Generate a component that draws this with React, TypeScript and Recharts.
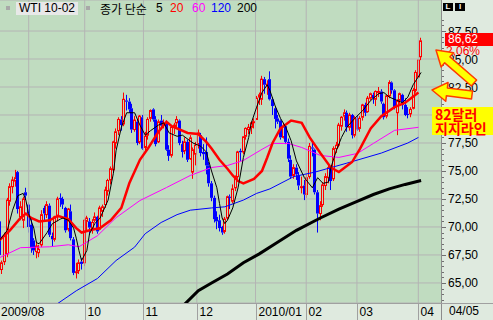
import React from "react";
import { ComposedChart, Bar, Line, XAxis, YAxis, CartesianGrid, ReferenceLine } from "recharts";

// trading days per month, Aug 14 2009 .. Apr 5 2010
const monthNames = ["2009/08", "2009/09", "2009/10", "2009/11", "2009/12", "2010/01", "2010/02", "2010/03", "2010/04"];
const monthDays = [
  [14, 17, 18, 19, 20, 21, 24, 25, 26, 27, 28, 31],
  [1, 2, 3, 4, 8, 9, 10, 11, 14, 15, 16, 17, 18, 21, 22, 23, 24, 25, 28, 29, 30],
  [1, 2, 5, 6, 7, 8, 9, 12, 13, 14, 15, 16, 19, 20, 21, 22, 23, 26, 27, 28, 29, 30],
  [2, 3, 4, 5, 6, 9, 10, 11, 12, 13, 16, 17, 18, 19, 20, 23, 24, 25, 27, 30],
  [1, 2, 3, 4, 7, 8, 9, 10, 11, 14, 15, 16, 17, 18, 21, 22, 23, 24, 28, 29, 30, 31],
  [4, 5, 6, 7, 8, 11, 12, 13, 14, 15, 19, 20, 21, 22, 25, 26, 27, 28, 29],
  [1, 2, 3, 4, 5, 8, 9, 10, 11, 12, 16, 17, 18, 19, 22, 23, 24, 25, 26],
  [1, 2, 3, 4, 5, 8, 9, 10, 11, 12, 15, 16, 17, 18, 19, 22, 23, 24, 25, 26, 29, 30, 31],
  [1, 5],
];
const axisLabels = ["2009/08", "10", "11", "12", "2010/01", "02", "03", "04"];
const lastDateLabel = "04/05";

const opens = [
  70.5, 66.2, 66.9, 67.6, 72.3, 73.6, 74.1, 74.9, 70.9, 70.6, 73.1, 72.0,
  70.2, 68.8, 67.8, 67.7, 68.4, 71.7, 71.1, 71.9, 69.2, 68.9, 70.9, 72.6, 72.5, 71.7, 69.8, 71.4, 68.9, 66.0, 66.1, 66.9, 66.8,
  70.5, 70.5, 69.8, 70.6, 70.9, 69.8, 71.4, 72.0, 73.2, 74.2, 75.1, 77.5, 78.6, 79.6, 79.2, 81.3, 81.2, 80.6, 78.7, 79.4, 77.6, 79.8,
  77.1, 78.2, 79.7, 80.5, 79.6, 77.6, 79.5, 79.1, 79.3, 76.9, 76.4, 78.9, 79.3, 79.5, 77.4, 76.8, 77.6, 76.1, 74.9, 76.5,
  77.4, 78.2, 76.7, 76.7, 75.5, 73.9, 72.6, 70.9, 70.6, 70.0, 69.6, 70.8, 72.7, 72.3, 73.5, 74.5, 76.8, 76.7, 78.1, 78.7, 78.9, 79.4,
  79.6, 81.6, 81.4, 83.2, 82.6, 83.2, 81.4, 80.6, 79.7, 79.5, 78.0, 79.0, 77.6, 76.0, 74.6, 75.3, 74.6, 73.6, 73.7,
  72.9, 74.5, 77.1, 76.9, 73.1, 71.2, 72.0, 73.7, 74.4, 75.3, 74.3, 77.0, 77.3, 79.0, 79.9, 80.2, 78.9, 80.0, 78.2,
  79.7, 78.8, 79.8, 80.9, 80.3, 81.5, 81.8, 81.4, 82.0, 82.1, 81.0, 79.9, 81.7, 82.9, 82.2, 80.2, 81.3, 81.8, 80.9, 80.1, 80.1, 80.6, 82.2,
  83.4, 85.2,
];
const highs = [
  71.0, 67.0, 69.5, 72.6, 73.9, 74.5, 75.1, 75.0, 72.3, 72.7, 73.5, 72.2,
  70.9, 69.0, 68.7, 68.4, 71.5, 71.9, 72.3, 72.1, 69.5, 71.0, 72.7, 73.0, 72.7, 71.8, 71.7, 72.0, 69.1, 66.8, 67.1, 67.2, 70.7,
  71.0, 70.8, 70.7, 71.3, 71.0, 71.9, 72.0, 73.6, 74.3, 75.4, 77.7, 78.8, 79.8, 79.9, 82.0, 81.8, 81.5, 81.0, 79.9, 79.6, 80.0, 80.0,
  78.5, 79.8, 80.5, 80.6, 79.9, 79.6, 80.0, 79.6, 79.5, 77.3, 79.1, 79.3, 79.9, 79.6, 77.7, 78.0, 77.8, 78.2, 77.1, 77.6,
  78.7, 78.4, 77.4, 78.0, 75.8, 74.1, 72.8, 71.4, 71.1, 70.1, 70.9, 72.8, 72.9, 73.8, 74.6, 76.8, 77.0, 78.1, 78.9, 79.2, 79.4, 79.7,
  81.7, 82.0, 83.5, 83.4, 83.1, 83.9, 81.6, 80.8, 80.0, 79.6, 79.3, 79.1, 77.9, 76.4, 75.6, 75.6, 74.9, 74.5, 74.2,
  74.7, 77.5, 77.7, 77.0, 73.3, 72.3, 74.0, 74.8, 75.5, 75.4, 77.2, 77.6, 79.3, 79.9, 80.5, 80.4, 80.2, 80.1, 79.9,
  80.0, 79.9, 81.0, 81.1, 81.7, 82.0, 82.0, 82.2, 82.5, 82.3, 81.1, 81.8, 83.1, 83.0, 82.3, 81.4, 82.0, 81.9, 81.5, 80.7, 80.7, 82.4, 84.0,
  85.0, 86.9,
];
const lows = [
  66.9, 65.8, 66.6, 67.3, 71.9, 73.0, 73.6, 71.2, 70.6, 69.9, 72.4, 69.5,
  67.7, 67.5, 67.2, 67.3, 68.2, 70.6, 70.8, 69.1, 68.3, 68.7, 70.5, 71.8, 71.6, 69.5, 69.6, 68.8, 65.7, 65.4, 65.8, 66.2, 66.5,
  69.6, 69.3, 69.4, 70.4, 69.4, 69.7, 70.9, 71.7, 72.8, 73.8, 74.9, 77.0, 78.2, 78.6, 79.0, 80.4, 80.2, 78.4, 78.5, 77.3, 77.4, 76.9,
  76.6, 77.8, 79.4, 79.4, 77.2, 77.5, 78.7, 78.8, 76.8, 75.9, 76.2, 78.3, 78.9, 77.3, 76.2, 76.5, 75.8, 76.0, 74.3, 75.5,
  77.0, 76.3, 76.0, 74.7, 73.6, 72.3, 70.4, 69.8, 69.6, 69.3, 69.4, 70.6, 71.6, 72.1, 73.2, 74.3, 75.9, 76.5, 77.8, 78.3, 78.3, 78.8,
  79.6, 80.9, 80.9, 81.9, 81.8, 81.3, 80.0, 78.8, 79.2, 77.8, 77.9, 77.4, 75.8, 74.3, 74.3, 74.2, 73.3, 73.0, 72.4,
  72.6, 74.3, 76.3, 72.9, 69.5, 70.6, 71.8, 73.3, 73.9, 73.3, 74.1, 76.6, 77.1, 78.6, 79.5, 78.5, 78.6, 77.9, 78.0,
  78.6, 78.5, 79.5, 79.9, 80.2, 81.3, 81.0, 80.8, 81.6, 81.0, 79.6, 79.7, 81.5, 81.9, 80.5, 78.2, 81.0, 80.5, 79.9, 79.7, 79.8, 80.5, 82.0,
  83.3, 84.9,
];
const closes = [
  67.5, 66.8, 69.2, 72.4, 73.6, 74.2, 74.4, 71.6, 71.8, 72.5, 72.8, 70.0,
  68.1, 67.9, 68.3, 68.0, 71.1, 71.2, 72.0, 69.3, 68.9, 70.9, 72.5, 72.5, 72.0, 69.7, 71.6, 69.0, 65.9, 66.0, 66.8, 66.7, 70.6,
  70.8, 69.95, 70.4, 70.9, 69.6, 71.7, 71.8, 73.3, 74.15, 75.2, 77.6, 78.5, 79.6, 79.1, 81.4, 81.19, 80.5, 78.7, 79.55, 77.5, 79.9, 77.0,
  78.1, 79.6, 80.4, 79.6, 77.4, 79.4, 79.05, 79.3, 76.9, 76.35, 78.9, 79.1, 79.6, 77.5, 76.7, 77.6, 76.0, 77.96, 76.9, 77.3,
  78.4, 76.6, 76.5, 75.5, 73.9, 72.6, 70.7, 70.5, 69.9, 69.5, 70.7, 72.7, 72.6, 73.4, 74.4, 76.7, 76.67, 78.05, 78.8, 78.9, 79.3, 79.4,
  81.5, 81.8, 83.2, 82.7, 82.75, 81.4, 80.8, 79.65, 79.4, 78.0, 79.0, 77.6, 76.1, 74.5, 75.3, 74.7, 73.7, 73.6, 72.9,
  74.4, 77.2, 77.0, 73.1, 71.2, 71.9, 73.75, 74.5, 75.3, 74.1, 77.0, 77.3, 79.1, 79.8, 80.2, 78.9, 80.0, 78.2, 79.7,
  78.7, 79.7, 80.9, 80.2, 81.5, 81.9, 81.5, 82.1, 82.1, 81.2, 79.8, 81.7, 82.9, 82.2, 80.7, 81.25, 81.9, 80.9, 80.0, 80.0, 80.5, 82.2, 83.8,
  84.9, 86.62,
];

// moving averages: [bar index, value]
const ma5 = [
  [0, 68.8], [3, 69.7], [5, 71.5], [7, 72.8], [9, 73.0], [10, 72.4], [11, 71.2], [13, 69.9], [14, 68.6], [15, 68.5],
  [18, 69.5], [20, 70.3], [23, 70.7], [24, 70.8], [26, 70.6], [28, 69.9], [29, 69.0], [30, 67.9], [31, 67.0], [33, 67.9],
  [34, 69.4], [36, 70.3], [38, 70.8], [41, 72.4], [43, 74.8], [44, 76.8], [46, 78.9], [48, 80.2], [50, 80.2], [51, 80.2],
  [53, 79.1], [55, 78.2], [57, 78.6], [60, 79.1], [62, 79.3], [64, 78.4], [67, 78.1], [69, 78.2], [73, 77.5], [76, 77.2],
  [78, 76.7], [80, 75.0], [82, 73.5], [83, 72.1], [84, 70.8], [85, 70.3], [86, 70.6], [88, 71.7], [90, 73.5], [92, 76.2],
  [94, 78.0], [95, 79.3], [97, 80.7], [99, 82.0], [101, 82.7], [102, 82.2], [104, 80.8], [106, 79.7], [108, 78.9], [110, 77.7],
  [112, 75.9], [115, 74.4], [118, 73.5], [120, 74.4], [122, 73.9], [124, 74.0], [125, 75.3], [127, 76.8], [129, 78.0], [131, 78.9],
  [134, 79.7], [137, 80.4], [140, 81.3], [143, 81.9], [145, 82.0], [147, 81.6], [150, 81.3], [152, 81.1], [154, 81.6], [156, 82.7],
  [159, 83.8],
];
const ma20 = [
  [0, 68.8], [4, 69.7], [8, 70.8], [10, 71.2], [12, 70.8], [15, 70.5], [19, 70.6], [22, 71.0], [26, 70.7], [29, 69.9],
  [31, 69.5], [34, 69.7], [38, 69.9], [42, 70.6], [46, 71.7], [49, 73.9], [53, 76.0], [56, 77.0], [60, 78.5], [63, 79.4],
  [65, 79.0], [71, 78.4], [75, 78.3], [78, 77.6], [80, 77.0], [83, 76.0], [86, 75.2], [88, 74.6], [90, 74.1], [92, 73.9],
  [96, 74.3], [99, 75.0], [101, 76.2], [103, 77.5], [106, 78.8], [110, 79.5], [114, 79.3], [117, 78.0], [121, 76.6], [125, 75.3],
  [128, 74.9], [133, 75.8], [136, 77.0], [140, 78.8], [144, 79.9], [149, 80.7], [153, 81.1], [158, 82.0],
];
const ma60 = [
  [0, 67.25], [8, 68.15], [19, 68.23], [26, 68.41], [30, 68.23], [37, 69.22], [44, 70.83], [53, 72.36], [63, 73.52], [72, 74.6],
  [80, 75.31], [86, 75.49], [92, 75.94], [99, 76.93], [103, 77.46], [109, 77.46], [114, 77.1], [121, 76.39], [128, 76.21], [135, 76.57],
  [141, 77.46], [149, 78.63], [158, 78.9],
];
const ma120 = [
  [21, 63.0], [29, 64.3], [37, 65.4], [44, 67.0], [51, 68.2], [55, 69.4], [61, 70.4], [67, 71.1], [72, 71.5], [80, 71.7],
  [85, 71.8], [92, 72.4], [97, 73.0], [102, 73.4], [111, 74.5], [119, 74.9], [131, 75.7], [144, 76.6], [154, 77.5], [158, 78.0],
];
const ma200 = [
  [69, 62.9], [75, 64.3], [80, 65.0], [86, 65.8], [92, 66.8], [98, 67.6], [104, 68.5], [112, 69.7], [121, 70.8], [128, 71.6],
  [134, 72.2], [141, 72.9], [147, 73.4], [153, 73.8], [159, 74.15],
];

const priceTicks = [65, 67.5, 70, 72.5, 75, 77.5, 80, 82.5, 85, 87.5];
const lastPrice = "86,62";
const lastChange = "2,06%";

const EMPTY_SLOTS = 7;
const Y_MIN = 63.21;
const Y_MAX = 90.27;
const PLOT_H = 303;

const PLOT_BG = "#c0dcc0";
const PANEL_BG = "#dfeadf";
const GRID = "#b4b4b4";
const RED = "#ff0000";
const BLUE = "#0000ff";
const FONT = "'Liberation Sans', Arial, sans-serif";
const KFONT = "'Noto Sans CJK KR', 'Noto Sans', sans-serif";

const dates: string[] = [];
const monthStarts: number[] = [];
monthDays.forEach((days, m) => {
  monthStarts.push(dates.length);
  days.forEach((d) => dates.push(`${monthNames[m]}/${String(d).padStart(2, "0")}`));
});

const rows: any[] = dates.map((date, i) => ({
  date,
  open: opens[i],
  high: highs[i],
  low: lows[i],
  close: closes[i],
  range: [lows[i], highs[i]],
}));
for (let k = 0; k < EMPTY_SLOTS; k++) rows.push({ date: `pad${k}` });
const attach = (key: string, pts: number[][]) => pts.forEach(([i, v]) => (rows[i][key] = v));
attach("ma5", ma5);
attach("ma20", ma20);
attach("ma60", ma60);
attach("ma120", ma120);
attach("ma200", ma200);

// month boundaries (between last bar of a month and first of the next)
const monthEdges = monthStarts.slice(1).map((s) => s - 0.5);

const fmt = (v: number) => v.toFixed(2).replace(".", ",");

const Candle = (props: any) => {
  const { x, y, width, height, payload } = props;
  if (!payload || payload.open == null) return null;
  const { open, high, low, close } = payload;
  const top = Math.min(y, y + height);
  const span = Math.abs(height);
  const toY = (v: number) => (high === low ? top : top + ((high - v) / (high - low)) * span);
  const cx = Math.floor(x + width / 2);
  const up = close >= open;
  const color = up ? RED : BLUE;
  const bTop = toY(Math.max(open, close));
  const bH = Math.max(toY(Math.min(open, close)) - bTop, 1);
  return (
    <g>
      <line x1={cx + 0.5} x2={cx + 0.5} y1={top} y2={bTop} stroke={color} />
      <line x1={cx + 0.5} x2={cx + 0.5} y1={bTop + bH} y2={top + span} stroke={color} />
      {up ? (
        <rect x={cx - 0.5} y={bTop} width={2} height={bH} fill={PLOT_BG} stroke={color} />
      ) : (
        <rect x={cx - 1} y={bTop} width={3} height={bH} fill={color} />
      )}
    </g>
  );
};

const PriceTick = (props: any) => {
  const { x, y, payload, index } = props;
  const step = (0.5 * PLOT_H) / (Y_MAX - Y_MIN);
  const marks = [1, 2, 3, 4].map((k) => y - k * step).filter((v) => v > 17);
  if (index === 0) [1, 2, 3].forEach((k) => marks.push(y + k * step));
  return (
    <g>
      <line x1={x} x2={x + 5} y1={Math.round(y) + 0.5} y2={Math.round(y) + 0.5} stroke="#707070" />
      {marks.map((m, k) => (
        <line key={k} x1={x} x2={x + 3} y1={Math.round(m) + 0.5} y2={Math.round(m) + 0.5} stroke="#707070" />
      ))}
      <text x={x + 7} y={y + 4.5} fontSize={12} fontFamily={FONT} fill="#000">
        {fmt(Number(payload.value))}
      </text>
    </g>
  );
};

const AXIS_TOP = PLOT_H;

const MonthTick = (props: any) => {
  const { x, index } = props;
  if (index === 0) {
    return (
      <text x={1} y={AXIS_TOP + 13} fontSize={12} fontFamily={FONT} fill="#000">
        {axisLabels[0]}
      </text>
    );
  }
  const lx = Math.round(x) + 0.5;
  return (
    <g>
      <line x1={lx} x2={lx} y1={AXIS_TOP} y2={AXIS_TOP + 17} stroke="#a0a0a0" />
      <text x={lx + 2} y={AXIS_TOP + 13} fontSize={12} fontFamily={FONT} fill="#000">
        {axisLabels[index]}
      </text>
    </g>
  );
};

function arrowPoints(x1: number, y1: number, x2: number, y2: number) {
  const shaft = 4, headW = 9.5, headL = 15;
  const len = Math.hypot(x2 - x1, y2 - y1);
  const ux = (x2 - x1) / len, uy = (y2 - y1) / len;
  const px = -uy, py = ux;
  const bx = x2 - ux * headL, by = y2 - uy * headL;
  return [
    [x1 + px * shaft, y1 + py * shaft],
    [bx + px * shaft, by + py * shaft],
    [bx + px * headW, by + py * headW],
    [x2, y2],
    [bx - px * headW, by - py * headW],
    [bx - px * shaft, by - py * shaft],
    [x1 - px * shaft, y1 - py * shaft],
  ]
    .map((p) => p.join(","))
    .join(" ");
}

const abs = (style: React.CSSProperties): React.CSSProperties => ({ position: "absolute", ...style });

export default function App() {
  return (
    <div style={abs({ left: 0, top: 0, width: 493, height: 320, background: PANEL_BG, overflow: "hidden", fontFamily: FONT })}>
      <ComposedChart width={493} height={320} data={rows} margin={{ top: 0, right: 0, bottom: 0, left: -2 }}>
        <CartesianGrid vertical={false} stroke={GRID} fill={PLOT_BG} fillOpacity={1} />
        <XAxis dataKey="date" hide />
        <XAxis
          xAxisId="t"
          type="number"
          domain={[-0.5, rows.length - 0.5]}
          ticks={monthEdges}
          interval={0}
          allowDataOverflow
          height={17}
          tickSize={0}
          tickMargin={0}
          tickLine={false}
          axisLine={false}
          tick={<MonthTick />}
        />
        <YAxis
          orientation="right"
          width={52}
          domain={[Y_MIN, Y_MAX]}
          ticks={priceTicks}
          interval={0}
          allowDataOverflow
          tickSize={0}
          tickMargin={0}
          tickLine={false}
          axisLine={false}
          tick={<PriceTick />}
        />
        {monthEdges.map((e) => (
          <ReferenceLine key={e} xAxisId="t" x={e} stroke={GRID} strokeWidth={1} />
        ))}
        <Bar dataKey="range" barSize={3} shape={<Candle />} isAnimationActive={false} />
        <Line dataKey="ma200" stroke="#000000" strokeWidth={3} dot={false} activeDot={false} connectNulls isAnimationActive={false} />
        <Line dataKey="ma120" stroke={BLUE} strokeWidth={1} dot={false} activeDot={false} connectNulls isAnimationActive={false} />
        <Line dataKey="ma60" stroke="#ff00ff" strokeWidth={1} dot={false} activeDot={false} connectNulls isAnimationActive={false} />
        <Line dataKey="ma20" stroke={RED} strokeWidth={2.5} dot={false} activeDot={false} connectNulls isAnimationActive={false} />
        <Line dataKey="ma5" stroke="#000000" strokeWidth={1} dot={false} activeDot={false} connectNulls isAnimationActive={false} />
      </ComposedChart>

      {/* frame lines */}
      <div style={abs({ left: 441, top: 0, width: 1, height: 320, background: "#8c8c8c" })} />
      <div style={abs({ left: 0, top: 303, width: 493, height: 1, background: "#a0a0a0" })} />

      {/* header */}
      <div style={abs({ left: 6, top: 6, width: 4, height: 4, background: "#a8a8a8" })} />
      <div style={abs({ left: 16, top: 2, width: 62, height: 13, background: "#e8e8e8", fontSize: 12, lineHeight: "13px", textAlign: "center", color: "#000" })}>
        WTI 10-02
      </div>
      <div style={abs({ left: 86, top: 6, width: 4, height: 4, background: "#a8a8a8" })} />
      <div style={abs({ left: 100, top: 1, fontSize: 12, lineHeight: "15px", fontFamily: KFONT, color: "#000", whiteSpace: "nowrap" })}>종가 단순</div>
      <div style={abs({ left: 156, top: 1, fontSize: 12, lineHeight: "15px", color: "#000" })}>5</div>
      <div style={abs({ left: 170, top: 1, fontSize: 12, lineHeight: "15px", color: RED })}>20</div>
      <div style={abs({ left: 192, top: 1, fontSize: 12, lineHeight: "15px", color: "#ff00ff" })}>60</div>
      <div style={abs({ left: 211, top: 1, fontSize: 12, lineHeight: "15px", color: BLUE })}>120</div>
      <div style={abs({ left: 237, top: 1, fontSize: 12, lineHeight: "15px", color: "#000" })}>200</div>

      {/* icon in the axis corner */}
      <div style={abs({ left: 443, top: 3, width: 10, height: 8, background: "#000", color: "#fff", fontSize: 8, lineHeight: "8px", fontWeight: 700, textAlign: "center" })}>L</div>
      <div style={abs({ left: 455, top: 3, width: 10, height: 8, background: "#000", color: "#fff", fontSize: 8, lineHeight: "8px", fontWeight: 700, textAlign: "center" })}>I</div>

      {/* last price */}
      <div style={abs({ left: 446, top: 45, fontSize: 12, lineHeight: "12px", color: RED })}>{lastChange}</div>
      <div style={abs({ left: 445, top: 33, width: 48, height: 13, background: RED, color: "#fff", fontSize: 12, lineHeight: "13px", paddingLeft: 3, boxSizing: "border-box" })}>
        {lastPrice}
      </div>

      <div style={abs({ left: 449, top: 304, fontSize: 12, lineHeight: "15px", color: "#000" })}>{lastDateLabel}</div>

      {/* annotation */}
      <div style={abs({ left: 432, top: 107, width: 61, height: 28, background: "#ffff00" })} />
      <div style={abs({ left: 435, top: 107, fontFamily: KFONT, fontWeight: 700, fontSize: 14, lineHeight: "14px", color: RED, whiteSpace: "nowrap" })}>
        82달러
        <br />
        지지라인
      </div>
      <svg width={493} height={320} style={abs({ left: 0, top: 0 })}>
        <polygon points={arrowPoints(474, 83, 436, 50)} fill="#ffff00" stroke="#ff3c00" strokeWidth={1.5} strokeLinejoin="round" />
        <polygon points={arrowPoints(472, 95, 432, 90)} fill="#ffff00" stroke="#ff3c00" strokeWidth={1.5} strokeLinejoin="round" />
      </svg>
    </div>
  );
}
